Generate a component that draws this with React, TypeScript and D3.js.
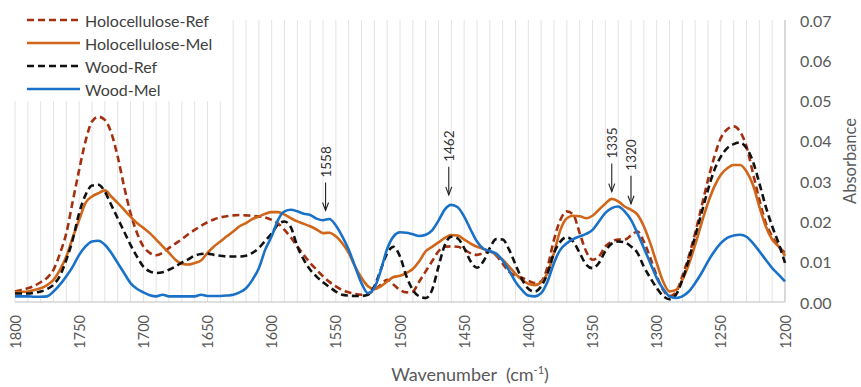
import React from 'react';
import * as d3 from 'd3';

// FTIR spectra, absorbance read every 5 cm-1 from 1800 to 1200
const wavenumbers = [
  1800, 1795, 1790, 1785, 1780, 1775, 1770, 1765, 1760, 1755,
  1750, 1745, 1740, 1735, 1730, 1725, 1720, 1715, 1710, 1705,
  1700, 1695, 1690, 1685, 1680, 1675, 1670, 1665, 1660, 1655,
  1650, 1645, 1640, 1635, 1630, 1625, 1620, 1615, 1610, 1605,
  1600, 1595, 1590, 1585, 1580, 1575, 1570, 1565, 1560, 1555,
  1550, 1545, 1540, 1535, 1530, 1525, 1520, 1515, 1510, 1505,
  1500, 1495, 1490, 1485, 1480, 1475, 1470, 1465, 1460, 1455,
  1450, 1445, 1440, 1435, 1430, 1425, 1420, 1415, 1410, 1405,
  1400, 1395, 1390, 1385, 1380, 1375, 1370, 1365, 1360, 1355,
  1350, 1345, 1340, 1335, 1330, 1325, 1320, 1315, 1310, 1305,
  1300, 1295, 1290, 1285, 1280, 1275, 1270, 1265, 1260, 1255,
  1250, 1245, 1240, 1235, 1230, 1225, 1220, 1215, 1210, 1205,
  1200,
];

const holoRef = [
  0.0026, 0.003, 0.0034, 0.004, 0.0049, 0.006, 0.008, 0.012, 0.0171, 0.025,
  0.0328, 0.04, 0.0448, 0.046, 0.0452, 0.042, 0.0361, 0.0287, 0.0221, 0.0172,
  0.0138, 0.0122, 0.0116, 0.0122, 0.0134, 0.0145, 0.0156, 0.0168, 0.0179, 0.0189,
  0.0198, 0.0205, 0.021, 0.0213, 0.0215, 0.0216, 0.0215, 0.0214, 0.0212, 0.021,
  0.0204, 0.0195, 0.0179, 0.016, 0.0138, 0.0117, 0.0097, 0.008, 0.0064, 0.005,
  0.0039, 0.003, 0.0024, 0.002, 0.0018, 0.002, 0.003, 0.0043, 0.0055, 0.0043,
  0.003, 0.0024, 0.0026, 0.0051, 0.0076, 0.0101, 0.0126, 0.0137, 0.0138, 0.0137,
  0.013, 0.0121, 0.0117, 0.0121, 0.0126, 0.0115, 0.0095, 0.0075, 0.0065, 0.006,
  0.0053, 0.0047, 0.0051, 0.0088, 0.0155, 0.0204, 0.0225, 0.0217, 0.0171, 0.0126,
  0.0105, 0.0113, 0.0138, 0.015, 0.0155, 0.0155, 0.0165, 0.0175, 0.015, 0.011,
  0.0065, 0.003, 0.0015, 0.0024, 0.0064, 0.0113, 0.0171, 0.0237, 0.0303, 0.0361,
  0.0407, 0.0429, 0.0436, 0.0423, 0.0386, 0.032, 0.0254, 0.0196, 0.0163, 0.0138,
  0.0122,
];

const holoMel = [
  0.0024, 0.0025, 0.0026, 0.003, 0.0034, 0.0042, 0.0055, 0.008, 0.0113, 0.016,
  0.0204, 0.0246, 0.0262, 0.027, 0.0277, 0.0262, 0.0246, 0.0229, 0.0212, 0.0196,
  0.0184, 0.0171, 0.0155, 0.0138, 0.0122, 0.0105, 0.0095, 0.0093, 0.0097, 0.0103,
  0.0122, 0.0138, 0.015, 0.0163, 0.0175, 0.0188, 0.0196, 0.0206, 0.0212, 0.0219,
  0.0223, 0.0223, 0.0217, 0.0208, 0.02, 0.0194, 0.0188, 0.018, 0.0171, 0.0172,
  0.0163, 0.0146, 0.0122, 0.0088, 0.006, 0.0039, 0.0032, 0.0039, 0.0051, 0.0062,
  0.0065, 0.0072, 0.0082, 0.0101, 0.0126, 0.0137, 0.0148, 0.0159, 0.0166, 0.0165,
  0.0155, 0.0145, 0.0137, 0.0132, 0.0126, 0.0117, 0.0105, 0.0088, 0.007, 0.0055,
  0.0045, 0.0042, 0.0049, 0.0072, 0.0122, 0.0179, 0.0208, 0.0214, 0.0213, 0.0208,
  0.0214, 0.0229, 0.0244, 0.0256, 0.025, 0.0237, 0.0229, 0.0217, 0.0188, 0.0146,
  0.0097, 0.0051, 0.0026, 0.003, 0.0055, 0.0093, 0.0142, 0.0196, 0.0246, 0.0287,
  0.0316, 0.0332, 0.034, 0.034, 0.0324, 0.0291, 0.0237, 0.0188, 0.0155, 0.0138,
  0.0115,
];

const woodRef = [
  0.0021, 0.0021, 0.0021, 0.0023, 0.0026, 0.0032, 0.0043, 0.0065, 0.0105, 0.0155,
  0.0221, 0.0266, 0.0289, 0.0291, 0.0274, 0.0241, 0.0208, 0.0175, 0.0142, 0.0113,
  0.0088, 0.0076, 0.0072, 0.0074, 0.008, 0.0088, 0.0098, 0.0106, 0.0115, 0.0119,
  0.012, 0.0117, 0.0115, 0.0113, 0.0113, 0.0113, 0.0115, 0.0122, 0.0134, 0.0152,
  0.017, 0.0193, 0.02, 0.0185, 0.0138, 0.0105, 0.008, 0.0063, 0.0049, 0.0037,
  0.0026, 0.0018, 0.0016, 0.0015, 0.0015, 0.0018, 0.0039, 0.008, 0.0121, 0.0137,
  0.0113, 0.0064, 0.003, 0.0014, 0.001, 0.003, 0.0088, 0.0142, 0.0162, 0.0158,
  0.0134, 0.0101, 0.0085, 0.0101, 0.0134, 0.0156, 0.0155, 0.013, 0.0093, 0.0057,
  0.0033, 0.0026, 0.0039, 0.0072, 0.0122, 0.015, 0.0161, 0.015, 0.0122, 0.0093,
  0.0084, 0.0097, 0.0126, 0.0145, 0.015, 0.0148, 0.0138, 0.0122, 0.0088, 0.006,
  0.0035, 0.0015, 0.0007, 0.0018, 0.0055, 0.0105, 0.0163, 0.0221, 0.0279, 0.0328,
  0.0361, 0.0382, 0.0392, 0.0396, 0.0382, 0.0349, 0.0295, 0.0237, 0.0188, 0.0146,
  0.0097,
];

const woodMel = [
  0.0014, 0.0014, 0.0014, 0.0013, 0.0013, 0.0014, 0.0026, 0.0043, 0.0064, 0.0088,
  0.0117, 0.0138, 0.015, 0.0152, 0.0142, 0.0122, 0.0097, 0.0072, 0.0047, 0.0033,
  0.0024, 0.0017, 0.0014, 0.0018, 0.0014, 0.0014, 0.0014, 0.0014, 0.0014, 0.0018,
  0.0015, 0.0015, 0.0015, 0.0016, 0.0018, 0.0024, 0.0034, 0.0055, 0.0084, 0.013,
  0.0163, 0.0204, 0.0225, 0.0229, 0.0225, 0.0219, 0.0216, 0.0207, 0.0203, 0.0206,
  0.019, 0.0163, 0.013, 0.0088, 0.0047, 0.0022, 0.0035, 0.0078, 0.0132, 0.0163,
  0.0173, 0.0172, 0.0168, 0.0164, 0.0167, 0.0178, 0.0202, 0.023, 0.0241, 0.0235,
  0.0212, 0.018, 0.015, 0.0132, 0.0126, 0.012, 0.0103, 0.0078, 0.005, 0.003,
  0.0016, 0.0014, 0.0022, 0.0051, 0.0097, 0.013, 0.0146, 0.0156, 0.0163, 0.0169,
  0.0179, 0.02, 0.0221, 0.0233, 0.0237, 0.0225, 0.0204, 0.0171, 0.0134, 0.0097,
  0.006, 0.0033, 0.0014, 0.001, 0.0014, 0.0026, 0.0047, 0.0072, 0.0101, 0.0126,
  0.0146, 0.0159, 0.0165, 0.0167, 0.0162, 0.0146, 0.0126, 0.0105, 0.0084, 0.0068,
  0.0051,
];

const seriesNames = ['Holocellulose-Ref', 'Holocellulose-Mel', 'Wood-Ref', 'Wood-Mel'];
const seriesValues = [holoRef, holoMel, woodRef, woodMel];

const xTicks = [1800, 1750, 1700, 1650, 1600, 1550, 1500, 1450, 1400, 1350, 1300, 1250, 1200];
const yTicks = [0, 0.01, 0.02, 0.03, 0.04, 0.05, 0.06, 0.07];
const gridWavenumbers = [
  1800, 1790, 1780, 1770, 1760, 1750, 1740, 1730, 1720, 1710, 1700, 1690, 1680, 1670, 1660,
  1650, 1640, 1630, 1620, 1610, 1600, 1590, 1580, 1570, 1560, 1550, 1540, 1530, 1520, 1510,
  1500, 1490, 1480, 1470, 1460, 1450, 1440, 1430, 1420, 1410, 1400, 1390, 1380, 1370, 1360,
  1350, 1340, 1330, 1320, 1310, 1300, 1290, 1280, 1270, 1260, 1250, 1240, 1230, 1220, 1210,
];

// peak markers: wavenumber and absorbance where the arrow tip stops
const peakLabels = ['1558', '1462', '1335', '1320'];
const peakWavenumbers = [1558, 1462, 1335, 1320];
const peakTips = [0.0227, 0.0266, 0.0274, 0.0244];

const styles = [
  { color: '#a3300f', dash: '7,4' },
  { color: '#d0661a', dash: null },
  { color: '#111111', dash: '7,4' },
  { color: '#1a72c8', dash: null },
];

const FONT = "Lato, 'Open Sans', sans-serif";
const TEXT = '#404040';

export default function App() {
  const width = 861;
  const height = 387;
  const margin = { top: 20, right: 76, bottom: 85, left: 15 };

  const x = d3.scaleLinear().domain([1800, 1200]).range([margin.left, width - margin.right]);
  const y = d3.scaleLinear().domain([0, 0.07]).range([height - margin.bottom, margin.top]);

  const line = d3
    .line<number>()
    .x((_, i) => x(wavenumbers[i]))
    .y((d) => y(d))
    .curve(d3.curveMonotoneX);

  const x0 = x(1800);
  const x1 = x(1200);
  const yBottom = y(0);
  const yTop = y(0.07);

  return (
    <div style={{ position: 'absolute', left: 0, top: 0 }}>
      <svg width={width} height={height} style={{ display: 'block', background: '#fff' }} fontFamily={FONT}>
        {/* vertical grid */}
        <g stroke="#e4e4e4" strokeWidth={1}>
          {gridWavenumbers.map((w) => (
            <line key={w} x1={x(w)} x2={x(w)} y1={yTop} y2={yBottom} />
          ))}
        </g>

        {/* axes lines */}
        <line x1={x0} x2={x1} y1={yBottom} y2={yBottom} stroke="#bfbfbf" strokeWidth={1.2} />
        <line x1={x1} x2={x1} y1={yTop} y2={yBottom} stroke="#bfbfbf" strokeWidth={1.2} />

        {/* series */}
        {seriesValues.map((vals, i) => (
          <path
            key={seriesNames[i]}
            d={line(vals) || ''}
            fill="none"
            stroke={styles[i].color}
            strokeWidth={2.6}
            strokeDasharray={styles[i].dash || undefined}
            strokeLinejoin="round"
          />
        ))}

        {/* y ticks, right side */}
        {yTicks.map((t) => (
          <text key={t} x={x1 + 15} y={y(t)} dominantBaseline="central" fontSize={16} fill="#595959">
            {d3.format('.2f')(t)}
          </text>
        ))}
        <text
          transform={`translate(${width - 11},${(yTop + yBottom) / 2}) rotate(-90)`}
          textAnchor="middle"
          dominantBaseline="central"
          fontSize={16.5}
          fill="#595959"
        >
          Absorbance
        </text>

        {/* x ticks, rotated */}
        {xTicks.map((t) => (
          <text
            key={t}
            transform={`translate(${x(t)},${yBottom + 13}) rotate(-90)`}
            textAnchor="end"
            dominantBaseline="central"
            fontSize={14.5}
            fill="#595959"
          >
            {t}
          </text>
        ))}
        <text x={470} y={381} textAnchor="middle" fontSize={18} fill="#595959">
          {'Wavenumber\u00a0\u00a0(cm'}
          <tspan fontSize={11} dy={-7}>-1</tspan>
          <tspan dy={7}>)</tspan>
        </text>

        {/* peak arrows */}
        {peakWavenumbers.map((w, i) => {
          const px = x(w);
          const tip = y(peakTips[i]);
          const top = tip - 28;
          return (
            <g key={w}>
              <line x1={px} x2={px} y1={top} y2={tip} stroke="#222" strokeWidth={1.1} />
              <path d={`M${px - 3},${tip - 8} L${px},${tip} L${px + 3},${tip - 8}`} fill="none" stroke="#222" strokeWidth={1.1} />
              <text
                transform={`translate(${px},${top - 5}) rotate(-90)`}
                textAnchor="start"
                dominantBaseline="central"
                fontSize={13.5}
                fill="#333"
              >
                {peakLabels[i]}
              </text>
            </g>
          );
        })}

        {/* legend */}
        <rect x={margin.left - 1} y={0} width={212} height={101} fill="#fff" />
        {seriesNames.map((name, i) => {
          const ly = 20 + i * 23;
          return (
            <g key={name}>
              <line
                x1={27}
                x2={80}
                y1={ly}
                y2={ly}
                stroke={styles[i].color}
                strokeWidth={2.6}
                strokeDasharray={styles[i].dash || undefined}
              />
              <text x={85} y={ly} dominantBaseline="central" fontSize={16} fill={TEXT}>
                {name}
              </text>
            </g>
          );
        })}
      </svg>
    </div>
  );
}
